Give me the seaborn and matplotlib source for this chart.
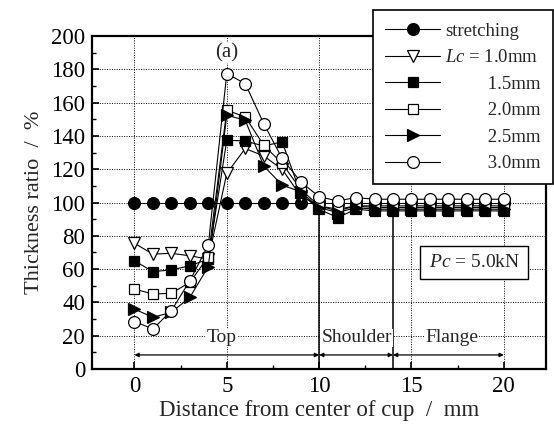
import numpy as np
import pandas as pd
import matplotlib
matplotlib.use("Agg")
import matplotlib.pyplot as plt
import seaborn as sns
from matplotlib.ticker import MultipleLocator

# ---- data ----
distance = list(range(0, 21))
stretching = [100] * 21
lc10 = [75.5, 69, 69.5, 68, 66, 117.5, 132.5, 128, 120, 104, 98, 95, 98, 97, 97, 97, 97, 97, 97, 97, 97]
lc15 = [65, 58.5, 59.5, 62, 66, 137.5, 137, 134, 136.5, 105.5, 96, 91, 96, 95, 95, 95, 95, 95, 95, 95, 95]
lc20 = [48, 45, 45.5, 52, 67.5, 155.5, 151.5, 134.5, 123.5, 108, 98, 96, 98, 98, 98, 98, 98, 98, 98, 98, 98]
lc25 = [36, 31, 34, 43, 61.5, 152.5, 149.5, 122, 110.5, 106.5, 97, 94, 97, 96, 96, 96, 96, 96, 96, 96, 96]
lc30 = [28.5, 24, 35, 53, 74.5, 177.5, 171.5, 147.5, 126.5, 112.5, 103.5, 101, 103, 102, 102, 102, 102, 102, 102, 102, 102]

series_labels = ["stretching", "$Lc$ = 1.0mm", "         1.5mm", "         2.0mm",
                 "         2.5mm", "         3.0mm"]
region_names = ["Top", "Shoulder", "Flange"]
region_bounds = [0, 10, 14, 20]

sns.set_theme(style="ticks")
plt.rcParams["font.family"] = ["Liberation Serif", "DejaVu Serif"]
plt.rcParams["mathtext.fontset"] = "custom"
plt.rcParams["mathtext.it"] = "Liberation Serif:italic"
plt.rcParams["mathtext.rm"] = "Liberation Serif"

fig = plt.figure(figsize=(5.54, 4.26), dpi=100)
ax = fig.add_axes([0.166, 0.134, 0.820, 0.781])

styles = [
    dict(marker="o", mfc="black", ms=8.5),
    dict(marker="v", mfc="white", ms=8),
    dict(marker="s", mfc="black", ms=7),
    dict(marker="s", mfc="white", ms=7),
    dict(marker=">", mfc="black", ms=9),
    dict(marker="o", mfc="white", ms=8.5),
]
all_series = [stretching, lc10, lc15, lc20, lc25, lc30]
for ys, st, lab in zip(all_series, styles, series_labels):
    sns.lineplot(x=distance, y=ys, ax=ax, color="black", lw=0.8,
                 marker=st["marker"], markersize=st["ms"],
                 markerfacecolor=st["mfc"], markeredgecolor="black",
                 markeredgewidth=0.9, label=lab, zorder=3)

ax.set_xlim(-2.3, 22.3)
ax.set_ylim(0, 200)
ax.xaxis.set_major_locator(MultipleLocator(5))
ax.xaxis.set_minor_locator(MultipleLocator(2.5))
ax.yaxis.set_major_locator(MultipleLocator(20))
ax.yaxis.set_minor_locator(MultipleLocator(10))
ax.tick_params(which="both", direction="in", colors="black", labelsize=16.5)
ax.tick_params(which="major", length=5, width=1.2)
ax.tick_params(axis="y", which="major", pad=5)
ax.tick_params(axis="x", which="major", pad=5)
ax.tick_params(which="minor", length=3, width=1)
ax.grid(True, which="major", linestyle=(0, (1, 1.5)), color="black", lw=0.7)
for s in ax.spines.values():
    s.set_linewidth(1.6)
    s.set_color("black")

ax.set_xlabel("Distance from center of cup  /  mm", fontsize=16.5, labelpad=2)
ax.set_ylabel("Thickness ratio  /  %", fontsize=16, labelpad=5)

# region separators
ax.plot([10, 10], [0, 97], color="black", lw=1.1, zorder=2)
ax.plot([14, 14], [0, 95], color="black", lw=1.1, zorder=2)
for i, name in enumerate(region_names):
    a, b = region_bounds[i], region_bounds[i + 1]
    ax.annotate("", xy=(b, 8.4), xytext=(a, 8.4),
                arrowprops=dict(arrowstyle="<|-|>", color="black", lw=0.9,
                                mutation_scale=6, shrinkA=0, shrinkB=0))
text_pos = [(4.7, 18.6), (12.05, 18.6), (17.2, 18.6)]
for name, (tx, ty) in zip(region_names, text_pos):
    ax.text(tx, ty, name, fontsize=14, ha="center", va="center",
            bbox=dict(facecolor="white", edgecolor="none", pad=0.5), zorder=4)

ax.text(5.0, 190, "(a)", fontsize=15, ha="center", va="center",
        bbox=dict(facecolor="white", edgecolor="none", pad=0.3), zorder=4)
ax.text(18.4, 64, "$Pc$ = 5.0kN", fontsize=14, ha="center", va="center",
        bbox=dict(facecolor="white", edgecolor="black", lw=1.0, pad=6), zorder=4)

leg = ax.legend(loc="upper right", bbox_to_anchor=(1.015, 1.078), fontsize=13.5,
                frameon=True, fancybox=False, edgecolor="black", framealpha=1,
                handlelength=2.9, labelspacing=0.5, borderpad=0.65,
                handletextpad=0.3, borderaxespad=0)
leg.get_frame().set_linewidth(1.2)
leg.set_zorder(10)

fig.savefig("out.png", dpi=100)
